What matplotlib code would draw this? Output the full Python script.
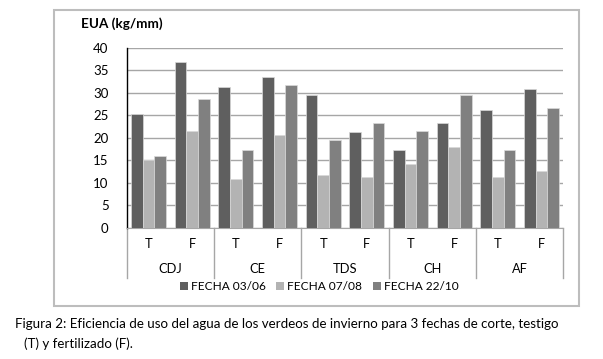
import matplotlib
matplotlib.use("Agg")
import matplotlib.pyplot as plt
from matplotlib.patches import Rectangle, Patch
import numpy as np

plt.rcParams['font.family'] = ['Lato', 'DejaVu Sans']

groups = ["CDJ", "CE", "TDS", "CH", "AF"]
subgroups = ["T", "F"]
series_names = ["FECHA 03/06", "FECHA 07/08", "FECHA 22/10"]
fecha_0306 = [25.3, 36.8, 31.3, 33.5, 29.5, 21.3, 17.3, 23.3, 26.2, 30.8]
fecha_0708 = [15.1, 21.4, 10.8, 20.7, 11.7, 11.2, 14.2, 17.9, 11.3, 12.6]
fecha_2210 = [16.0, 28.6, 17.2, 31.6, 19.4, 23.3, 21.6, 29.5, 17.3, 26.6]
colors = ["#5f5f5f", "#b3b3b3", "#808080"]

W, H = 603, 359
fig = plt.figure(figsize=(W / 100, H / 100), dpi=100)

def fx(px):
    return px / W

def fy(py):
    return 1 - py / H

# outer chart frame
fig.patches.append(Rectangle((fx(53.5), fy(305.5)), fx(579) - fx(53.5), fy(10) - fy(305.5),
                             transform=fig.transFigure, fill=False, edgecolor="#bdbdbd", lw=1.5))

left, right, top, bottom = 126.7, 563.3, 47.7, 227.7
ax = fig.add_axes([fx(left), fy(bottom), fx(right) - fx(left), fy(top) - fy(bottom)])

n = len(fecha_0306)
x = np.arange(n)
bw = 0.267
for i, (vals, c) in enumerate(zip([fecha_0306, fecha_0708, fecha_2210], colors)):
    ax.bar(x + (i - 1) * bw, vals, width=bw, color=c, edgecolor="#d9d9d9", linewidth=0.5, zorder=3)

ax.set_xlim(-0.5, n - 0.5)
ax.set_ylim(0, 40)
ax.set_yticks(np.arange(0, 41, 5))
ax.yaxis.grid(True, color="#a6a6a6", lw=1.0, zorder=0)
ax.set_axisbelow(True)
for s in ["top", "right"]:
    ax.spines[s].set_visible(False)
ax.spines["left"].set_color("#000000")
ax.spines["left"].set_linewidth(1.0)
ax.spines["bottom"].set_color("#a6a6a6")
ax.tick_params(axis="y", length=0, pad=13, labelsize=9.5, colors="#000000")
ax.set_xticks([])

# category table below axis
trans = ax.get_xaxis_transform()
frac = lambda py: -(py - bottom) / (bottom - top)
for k in range(len(groups) + 1):
    ax.plot([k * 2 - 0.5, k * 2 - 0.5], [0, frac(278)], transform=trans, color="#a6a6a6",
            lw=1.0, clip_on=False)
for i in range(n):
    ax.text(x[i], frac(244), subgroups[i % 2], transform=trans, ha="center", va="center", fontsize=9.3)
for g, name in enumerate(groups):
    ax.text(g * 2 + 0.5, frac(269), name, transform=trans, ha="center", va="center", fontsize=9.3)

# title
fig.text(fx(81), fy(24), "EUA (kg/mm)", fontsize=9.7, fontweight="bold", ha="left", va="center")

# legend
handles = [Patch(facecolor=c, edgecolor="none") for c in colors]
fig.legend(handles, series_names, loc="center left", bbox_to_anchor=(fx(180), fy(287)), ncol=3,
           frameon=False, fontsize=8.6, handlelength=0.65, handleheight=0.65, handletextpad=0.25,
           columnspacing=0.9, borderpad=0, borderaxespad=0)

# caption
fig.text(fx(15), fy(324), "Figura 2: Eficiencia de uso del agua de los verdeos de invierno para 3 fechas de corte, testigo",
         fontsize=9.6, ha="left", va="center")
fig.text(fx(24), fy(344), "(T) y fertilizado (F).", fontsize=9.6, ha="left", va="center")

fig.savefig("out.png", dpi=100)
